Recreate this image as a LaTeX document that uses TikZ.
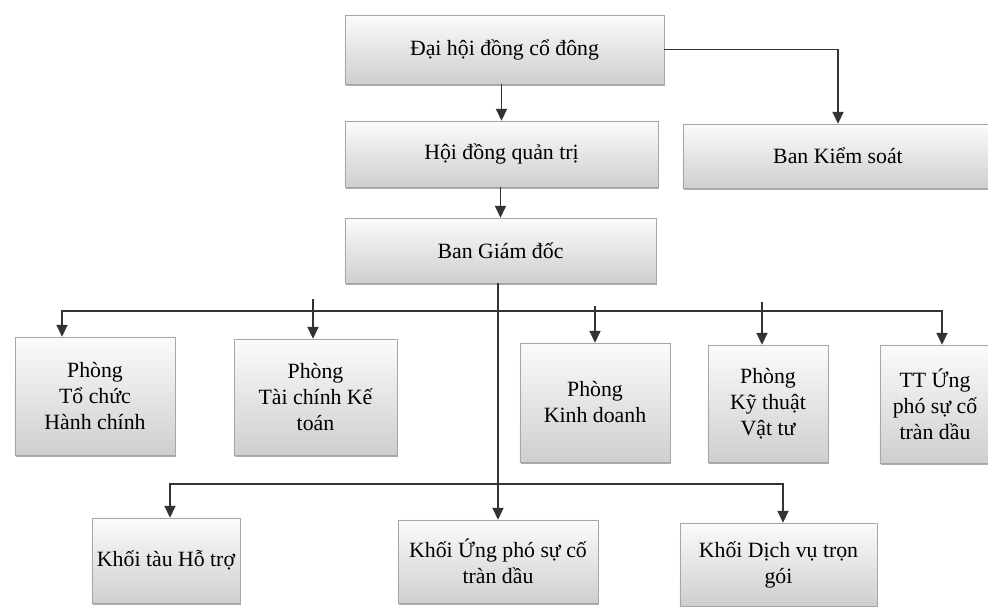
\documentclass[tikz,border=0pt]{standalone}
\usepackage{fontspec}
\setmainfont{Liberation Serif}
\usetikzlibrary{arrows.meta}
\usetikzlibrary{shadows}

\tikzset{
  box/.style={draw=gray!70, top color=gray!3, bottom color=gray!38, inner sep=0pt,
    align=center, font=\fontsize{15.5}{18.5}\selectfont,
    drop shadow={shadow xshift=0.6pt, shadow yshift=-1.4pt, fill=gray!80, opacity=0.8}},
  link/.style={draw=black!80, line width=0.8pt},
  arr/.style={link, -{Triangle[width=8pt,length=8.5pt]}}
}

\begin{document}
\begin{tikzpicture}[x=0.025cm, y=-0.025cm]
		\useasboundingbox (0,0) rectangle (988,606);
		% top levels
		\node[box, minimum width=7.975cm, minimum height=1.725cm] (dhdcd) at (504.5,49.5) {Đại hội đồng cổ đông};
		\node[box, minimum width=7.825cm, minimum height=1.65cm] (hdqt) at (501.5,154) {Hội đồng quản trị};
		\node[box, minimum width=7.75cm, minimum height=1.6cm] (bks) at (838,156) {Ban Kiểm soát};
		\node[box, minimum width=7.775cm, minimum height=1.625cm] (bgd) at (500.5,250.5) {Ban Giám đốc};
		% phong ban
		\node[box, minimum width=4cm, minimum height=2.95cm] (ptchc) at (95,396) {Phòng\\Tổ chức\\Hành chính};
		\node[box, minimum width=4.075cm, minimum height=2.9cm] (ptckt) at (315.5,397) {Phòng\\Tài chính Kế\\toán};
		\node[box, minimum width=3.75cm, minimum height=2.975cm] (pkd) at (595,402.5) {Phòng\\Kinh doanh};
		\node[box, minimum width=3cm, minimum height=2.925cm] (pktvt) at (768,403.5) {Phòng\\Kỹ thuật\\Vật tư};
		\node[box, minimum width=2.75cm, minimum height=2.95cm] (ttup) at (935,404) {TT Ứng\\phó sự cố\\tràn dầu};
		% khoi
		\node[box, minimum width=3.7cm, minimum height=2.125cm] (kthtr) at (166,560.5) {Khối tàu Hỗ trợ};
		\node[box, minimum width=5cm, minimum height=2.075cm] (kupsc) at (498,561.5) {Khối Ứng phó sự cố\\tràn dầu};
		\node[box, minimum width=4.925cm, minimum height=2.075cm] (kdvtg) at (778.5,564.5) {Khối Dịch vụ trọn\\gói};
		% bus points
		\coordinate (busa) at (62,311);
		\coordinate (busb) at (942,311);
		\coordinate (tapb) at (313,299);
		\coordinate (tapc) at (595,306);
		\coordinate (tapd) at (762,302);
		\coordinate (busc) at (170,484);
		\coordinate (busd) at (783,484);
		% connectors
		\draw[arr] (hdqt.north |- dhdcd.south) -- (hdqt.north);
		\draw[arr] (dhdcd.east) -| (bks.north);
		\draw[arr] (bgd.north |- hdqt.south) -- (bgd.north);
		\draw[arr] (kupsc.north |- bgd.south) -- (kupsc.north);
		\draw[arr] (busb) -- (busa) -- (busa |- ptchc.north);
		\draw[arr] (busa) -- (busb) -- (busb |- ttup.north);
		\draw[arr] (tapb) -- (tapb |- ptckt.north);
		\draw[arr] (tapc) -- (tapc |- pkd.north);
		\draw[arr] (tapd) -- (tapd |- pktvt.north);
		\draw[arr] (busd) -- (busc) -- (busc |- kthtr.north);
		\draw[arr] (busc) -- (busd) -- (busd |- kdvtg.north);
\end{tikzpicture}
\end{document}
